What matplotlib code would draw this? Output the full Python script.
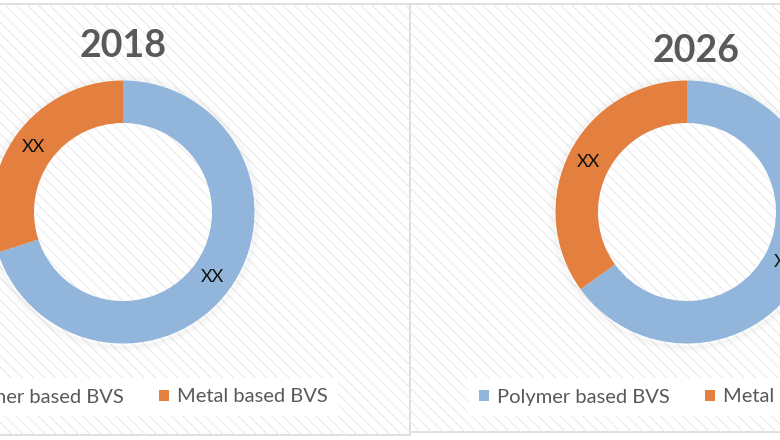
import matplotlib.pyplot as plt
from matplotlib.patches import Rectangle, Patch, Circle

plt.rcParams['font.family'] = ['Lato', 'DejaVu Sans']
plt.rcParams['hatch.linewidth'] = 0.9

# data
years = ["2018", "2026"]
segments = ["Polymer based BVS", "Metal based BVS"]
shares_2018 = [70, 30]
shares_2026 = [65, 35]
value_labels = ["XX", "XX"]
colors = ["#92b5dc", "#e3803f"]

W, H = 780, 440
fig = plt.figure(figsize=(7.8, 4.4), dpi=100)
ax = fig.add_axes([0, 0, 1, 1])

# panel layout in pixel coords (y from top)
panels = [
    dict(box=(-10, 4, 420, 431), center=(123, 212), title=(123, 46), legend=(130, 397)),
    dict(box=(410, 4, 380, 428), center=(687, 212), title=(696, 51), legend=(676, 397)),
]
outer_r = 131.5
ring_w = 42.5

for year, shares, p in zip(years, [shares_2018, shares_2026], panels):
    bx, by, bw, bh = p['box']
    ax.add_patch(Rectangle((bx, H - by - bh), bw, bh, facecolor='white',
                           edgecolor='#d9d9d9', lw=1.2, zorder=0))
    ax.add_patch(Rectangle((bx, H - by - bh), bw, bh, facecolor='none',
                           edgecolor='#ececec', lw=0, hatch='\\\\\\', zorder=0.5))
    cx, cy = p['center'][0], H - p['center'][1]

    # soft shadow around the ring
    for k, a in [(6, 0.025), (4, 0.035), (2, 0.05)]:
        ax.add_patch(Circle((cx, cy - 1), outer_r + k, facecolor='none',
                            edgecolor='#808080', lw=2, alpha=a, zorder=1))

    wedges, _, autotexts = ax.pie(shares, colors=colors, startangle=90, counterclock=False,
                                  center=(cx, cy), radius=outer_r,
                                  wedgeprops=dict(width=ring_w, linewidth=0),
                                  autopct=lambda pct: "XX", pctdistance=(outer_r - ring_w / 2) / outer_r,
                                  textprops=dict(fontsize=13, color='#111111'))
    for t, lab in zip(autotexts, value_labels):
        t.set_text(lab)

    tx, ty = p['title']
    ax.text(tx, H - ty, year, ha='center', va='center', fontsize=27,
            fontweight='bold', color='#595959')

    handles = [Patch(facecolor=c, edgecolor='none') for c in colors]
    lx, ly = p['legend']
    leg = ax.legend(handles, segments, loc='center', bbox_to_anchor=(lx / W, 1 - ly / H),
                    bbox_transform=ax.transAxes, ncol=2, frameon=True, fancybox=False,
                    facecolor='white', edgecolor='none', framealpha=1,
                    fontsize=14.5, labelcolor='#595959', handlelength=0.5, handleheight=0.5,
                    handletextpad=0.4, columnspacing=1.75, borderpad=0.5)
    ax.add_artist(leg)

ax.set_xlim(0, W)
ax.set_ylim(0, H)
ax.set_aspect('auto')
ax.axis('off')

fig.savefig("out.png", dpi=100)
